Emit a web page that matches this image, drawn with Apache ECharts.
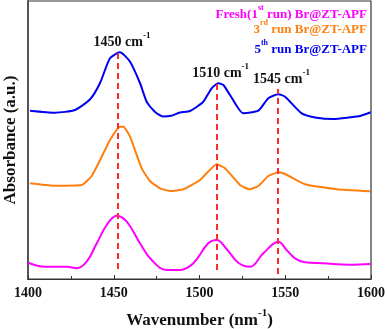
<!DOCTYPE html>
<html><head><meta charset="utf-8">
<script src="https://cdn.jsdelivr.net/npm/echarts@6/dist/echarts.min.js"></script>
<style>html,body{margin:0;padding:0;background:#fff}#c{width:387px;height:329px}</style>
</head><body><div id="c"></div>
<script>
const freshX = [1400.2,1409.9,1422.6,1428.4,1434.2,1440.1,1445.9,1451.7,1457.6,1465.3,1472.1,1480.9,1488.6,1496.4,1505.1,1510.0,1515.9,1522.6,1529.4,1537.2,1546.0,1550.8,1555.7,1561.5,1572.2,1587.8,1599.8];
const freshY = [16.3,12.3,12.3,10.7,17.3,35.7,54,63.3,57.3,35.7,19,9,9,15.7,35.7,39,29.7,16.3,12.3,25.7,37.3,29,20.7,16.7,15.7,14.3,15];
const run3X = [1401.2,1414.8,1431.3,1437.1,1443.0,1447.8,1453.6,1455.6,1459.5,1466.3,1471.1,1477.0,1482.8,1490.6,1500.3,1510.0,1514.9,1523.6,1529.0,1534.3,1540.1,1546.0,1549.9,1561.5,1580.0,1599.4];
const run3Y = [95.7,93.3,94,103,122.3,139,152.3,152.3,142.3,110.7,98,90.7,88,89.7,99,114.7,110.7,94,89.7,93,103,106.7,105,94.7,89.7,87.7];
const run5X = [1401.2,1415.7,1427.4,1436.2,1442.0,1447.8,1453.6,1459.5,1465.3,1469.2,1474.1,1478.7,1483.4,1488.6,1494.5,1502.2,1507.1,1511.0,1513.9,1517.8,1525.5,1534.3,1540.1,1546.0,1549.9,1559.6,1568.3,1578.0,1587.8,1593.6,1599.8];
const run5Y = [168.3,166.3,169,179.7,196,220.7,226.7,217.3,196,177.3,167,162.5,163.2,166.5,168,177.3,190.7,195.7,194,184,165.7,168.3,180.7,184.7,182.3,165.7,161.3,160,161.7,163,166.7];
const peakX = [1452.5, 1510, 1545.5];
const peakTop = [227, 196, 190];
const peakBottom = [10, 9, 5];
const peakLabels = ['1450', '1510', '1545'];
const seriesNames = ['Fresh(1st run) Br@ZT-APF', '3rd run Br@ZT-APF', '5th run Br@ZT-APF'];
const xTicks = [1400, 1450, 1500, 1550, 1600];

const FONT = '"Liberation Serif","Times New Roman",serif';
const zip = (xs, ys) => xs.map((x, i) => [x, ys[i]]);
const chart = echarts.init(document.getElementById('c'), null, {renderer: 'canvas'});
const supRich = (size, color) => ({
  n: {fontFamily: FONT, fontWeight: 'bold', fontSize: size, color: color, fill: color, lineHeight: size + 4, verticalAlign: 'bottom'},
  s: {fontFamily: FONT, fontWeight: 'bold', fontSize: Math.round(size * 0.62), color: color, fill: color, lineHeight: size + 4, verticalAlign: 'top'}
});
const markLineData = peakX.map((x, i) => [
  {coord: [x, peakBottom[i]], name: peakLabels[i]},
  {coord: [x, peakTop[i]]}
]);
const colors = ['#ff00ff', '#ff7f0e', '#0000f0'];
const legendParts = [
  ['Fresh(1', 'st', ' run) Br@ZT-APF'],
  ['3', 'rd', ' run Br@ZT-APF'],
  ['5', 'th', ' run Br@ZT-APF']
];
const legendTop = [4, 19, 39];
chart.setOption({
  animation: false,
  grid: {left: 28, right: 16, top: 1, bottom: 50, outerBoundsMode: 'none', containLabel: false,
    show: true, borderColor: '#333', borderWidth: 1.2, backgroundColor: 'transparent'},
  xAxis: {
    type: 'value', min: 1400, max: 1600, interval: 50,
    name: '{n|Wavenumber (nm}{s|-1}{n|)}', nameLocation: 'middle', nameGap: 29,
    nameTextStyle: {rich: supRich(17, '#111')},
    axisLine: {show: true, lineStyle: {color: '#333', width: 1.2}},
    axisTick: {show: true, inside: true, length: 4, lineStyle: {color: '#333'}},
    minorTick: {show: true, splitNumber: 2, length: 3, lineStyle: {color: '#333'}},
    splitLine: {show: false},
    axisLabel: {fontFamily: FONT, fontWeight: 'bold', fontSize: 14, color: '#111', margin: 7,
      formatter: v => xTicks.includes(v) ? String(v) : ''}
  },
  yAxis: {
    type: 'value', min: 0, max: 278,
    name: 'Absorbance (a.u.)', nameLocation: 'middle', nameGap: 9,
    nameTextStyle: {fontFamily: FONT, fontWeight: 'bold', fontSize: 17, color: '#111'},
    axisLine: {show: true, lineStyle: {color: '#555', width: 2}},
    axisTick: {show: false}, axisLabel: {show: false}, splitLine: {show: false}
  },
  graphic: legendParts.map((p, i) => ({
    type: 'text', right: 20, top: legendTop[i],
    style: {
      text: '{n|' + p[0] + '}{s|' + p[1] + '}{n|' + p[2] + '}',
      fill: colors[i],
      rich: supRich(13, colors[i])
    }
  })),
  series: [
    {name: seriesNames[0], type: 'line', data: zip(freshX, freshY), smooth: 0.4, showSymbol: false,
      lineStyle: {color: colors[0], width: 2}},
    {name: seriesNames[1], type: 'line', data: zip(run3X, run3Y), smooth: 0.15, showSymbol: false,
      lineStyle: {color: colors[1], width: 2}},
    {name: seriesNames[2], type: 'line', data: zip(run5X, run5Y), smooth: 0.2, showSymbol: false,
      lineStyle: {color: colors[2], width: 2},
      markLine: {silent: true, symbol: ['none', 'none'], animation: false,
        lineStyle: {color: '#ff2a2a', type: [6, 4], width: 2},
        label: {show: true, position: 'end', distance: 3, offset: [4, 0],
          formatter: p => '{n|' + p.name + ' cm}{s|-1}', rich: supRich(14, '#111')},
        data: markLineData}}
  ]
});
</script></body></html>
